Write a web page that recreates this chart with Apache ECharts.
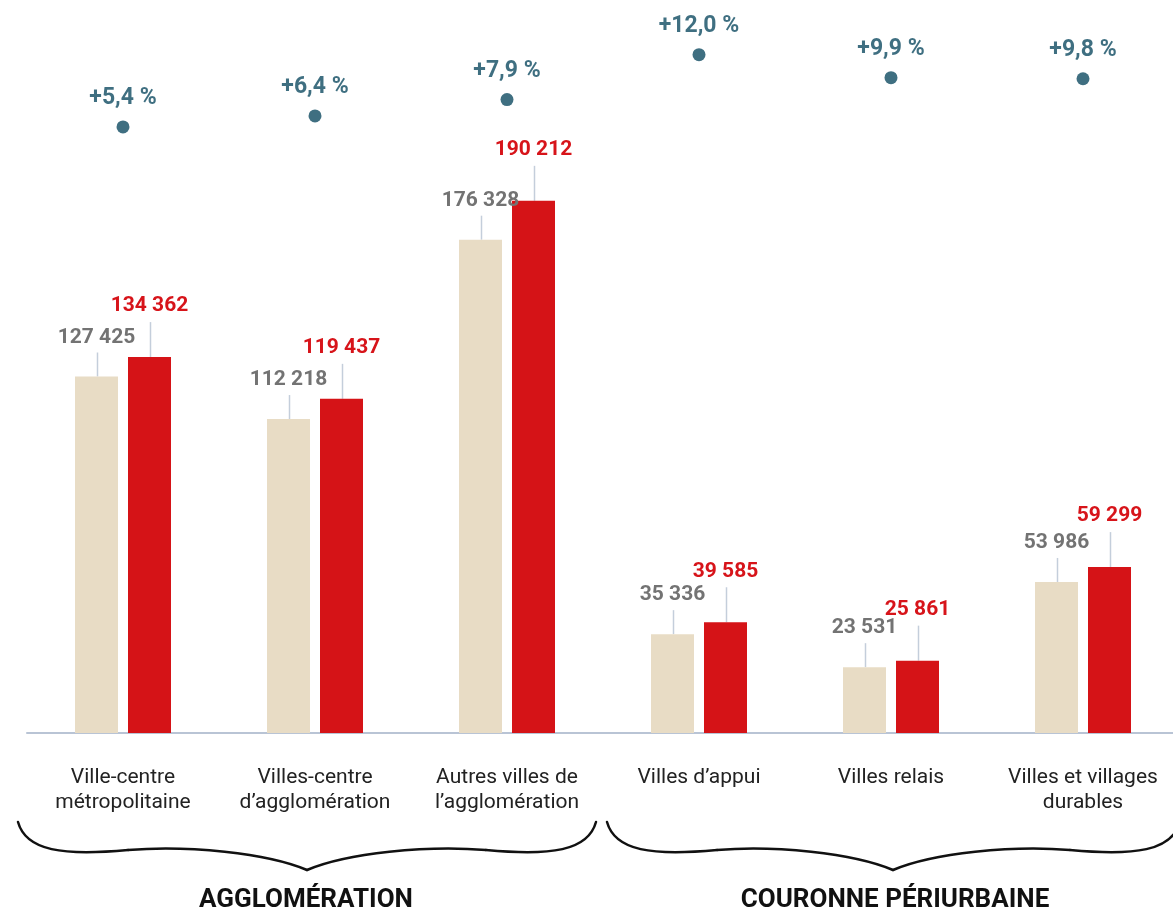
<!DOCTYPE html>
<html lang="fr">
<head>
<meta charset="utf-8">
<title>Évolution de la population par type de territoire</title>
<script src="https://cdn.jsdelivr.net/npm/echarts@6/dist/echarts.min.js"></script>
<style>
  html, body { margin: 0; padding: 0; background: #ffffff; }
  #chart { width: 1173px; height: 916px; }
</style>
</head>
<body>
<div id="chart"></div>
<script>
// Territory types along the x axis
const categories = [
  'Ville-centre\nmétropolitaine',
  'Villes-centre\nd’agglomération',
  'Autres villes de\nl’agglomération',
  'Villes d’appui',
  'Villes relais',
  'Villes et villages\ndurables'
];
// Population, earlier and later census
const popBefore = [127425, 112218, 176328, 35336, 23531, 53986];
const popAfter  = [134362, 119437, 190212, 39585, 25861, 59299];
// Growth between the two censuses, in percent
const growth = [5.4, 6.4, 7.9, 12.0, 9.9, 9.8];
// Group headings under the braces
const groups = ['AGGLOMÉRATION', 'COURONNE PÉRIURBAINE'];

const BEIGE = '#e8dcc5';
const RED = '#d51317';
const TEAL = '#0f4b62';
const BAR_W = 43;
const BAR_GAP = 10;
const BAR_OFFSET = (BAR_W + BAR_GAP) / 2;

const fmtPop = v => String(v).replace(/\B(?=(\d{3})+(?!\d))/g, ' ');
const fmtPct = v => '+' + v.toFixed(1).replace('.', ',') + ' %';

// Thin vertical leader from a bar top up toward its value label
function leader(offset, len) {
  return function (params, api) {
    const p = api.coord([api.value(0), api.value(1)]);
    const x = Math.round(p[0] + offset) + 0.5;
    return {
      type: 'line',
      shape: { x1: x, y1: p[1], x2: x, y2: p[1] - len },
      style: { stroke: '#c4cedb', lineWidth: 1.5 }
    };
  };
}

// Curly brace between x0 and x1 with its tip at xm, as four bezier pieces
function brace(x0, xm, x1) {
  const t = 822, b = 853, tip = 870;
  const segs = [
    [x0, t, x0 + 8, b - 2, x0 + 45, b + 3, x0 + 110, b - 3],
    [x0 + 110, b - 3, xm - 120, b - 8, xm - 40, b, xm, tip],
    [xm, tip, xm + 40, b, xm + 120, b - 8, x1 - 110, b - 3],
    [x1 - 110, b - 3, x1 - 45, b + 3, x1 - 8, b - 2, x1, t]
  ];
  return segs.map(s => ({
    type: 'bezierCurve',
    shape: { x1: s[0], y1: s[1], cpx1: s[2], cpy1: s[3], cpx2: s[4], cpy2: s[5], x2: s[6], y2: s[7] },
    style: { fill: null, stroke: '#111111', lineWidth: 2.5, lineCap: 'round' }
  }));
}

const chart = echarts.init(document.getElementById('chart'), null, { renderer: 'canvas' });

const option = {
  backgroundColor: '#ffffff',
  animation: false,
  textStyle: { fontFamily: 'Roboto' },
  grid: { left: 27, top: 0, width: 1152, bottom: 183, outerBoundsMode: 'none' },
  xAxis: {
    type: 'category',
    data: categories,
    axisTick: { show: false },
    axisLine: { show: true, lineStyle: { color: '#b9c4d5', width: 2 } },
    axisLabel: {
      interval: 0,
      margin: 32,
      color: '#222222',
      fontFamily: 'Roboto',
      fontSize: 21,
      lineHeight: 25,
      align: 'center'
    },
    splitLine: { show: false }
  },
  yAxis: [
    { type: 'value', min: 0, max: 262000, show: false, splitLine: { show: false } },
    { type: 'value', min: -50, max: 17, show: false, splitLine: { show: false } }
  ],
  series: [
    {
      type: 'bar',
      data: popBefore,
      barWidth: BAR_W,
      barGap: (BAR_GAP / BAR_W * 100).toFixed(2) + '%',
      itemStyle: { color: BEIGE },
      label: {
        show: true,
        position: 'top',
        distance: 28,
        formatter: p => fmtPop(p.value),
        color: '#737373',
        fontFamily: 'Roboto',
        fontWeight: 'bold',
        fontSize: 21,
        lineHeight: 22
      },
      z: 2
    },
    {
      type: 'bar',
      data: popAfter,
      barWidth: BAR_W,
      itemStyle: { color: RED },
      label: {
        show: true,
        position: 'top',
        distance: 40,
        formatter: p => fmtPop(p.value),
        color: '#d7141a',
        fontFamily: 'Roboto',
        fontWeight: 'bold',
        fontSize: 21,
        lineHeight: 22
      },
      z: 2
    },
    {
      type: 'custom',
      renderItem: leader(-BAR_OFFSET, 24),
      data: popBefore.map((v, i) => [i, v]),
      encode: { x: 0, y: 1 },
      silent: true,
      z: 1
    },
    {
      type: 'custom',
      renderItem: leader(BAR_OFFSET, 35),
      data: popAfter.map((v, i) => [i, v]),
      encode: { x: 0, y: 1 },
      silent: true,
      z: 1
    },
    {
      type: 'scatter',
      yAxisIndex: 1,
      data: growth.map((v, i) => [i, v]),
      symbol: 'circle',
      symbolSize: 13,
      itemStyle: { color: TEAL },
      label: {
        show: true,
        position: 'top',
        distance: 11,
        formatter: p => fmtPct(p.value[1]),
        color: TEAL,
        fontFamily: 'Roboto',
        fontWeight: 'bold',
        fontSize: 23,
        lineHeight: 22
      },
      z: 3
    }
  ],
  graphic: [].concat(
    brace(18, 307, 596),
    brace(607, 893, 1180),
    [
      {
        type: 'text',
        x: 306, y: 900,
        style: {
          text: groups[0],
          fill: '#111111', font: 'bold 26px Roboto',
          align: 'center', verticalAlign: 'middle'
        }
      },
      {
        type: 'text',
        x: 895, y: 900,
        style: {
          text: groups[1],
          fill: '#111111', font: 'bold 26px Roboto',
          align: 'center', verticalAlign: 'middle'
        }
      }
    ]
  )
};

chart.setOption(option);
</script>
</body>
</html>
